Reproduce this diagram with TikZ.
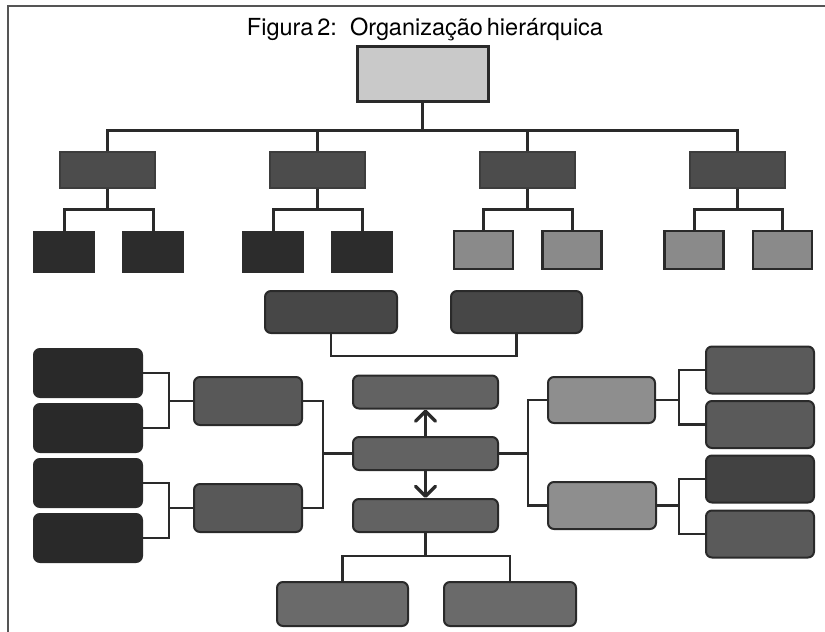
\documentclass[tikz,border=0pt]{standalone}
\usepackage{fontspec}
\setmainfont{TeX Gyre Heros}
\usetikzlibrary{arrows.meta}
\definecolor{cTop}{HTML}{C9C9C9}
\definecolor{cBrd}{HTML}{2A2A2A}
\definecolor{cLvl}{HTML}{4C4C4C}
\definecolor{cDark}{HTML}{2C2C2C}
\definecolor{cMid}{HTML}{8A8A8A}
\definecolor{cAB}{HTML}{474747}
\definecolor{cL}{HTML}{585858}
\definecolor{cC}{HTML}{626262}
\definecolor{cR}{HTML}{8E8E8E}
\definecolor{cFR}{HTML}{5A5A5A}
\definecolor{cFRd}{HTML}{424242}
\definecolor{cBot}{HTML}{6A6A6A}
\definecolor{cFL}{HTML}{292929}
\definecolor{cFrame}{HTML}{555555}
\tikzset{
  sq/.style={rectangle, inner sep=0pt, draw=cBrd, line width=1.5pt},
  rb/.style={rectangle, rounded corners=6pt, inner sep=0pt, draw=cBrd, line width=2pt},
  conA/.style={draw=cBrd, line width=3pt},
  conB/.style={draw=cBrd, line width=2.2pt},
  arr/.style={draw=cBrd, line width=3pt, -{Straight Barb[length=10pt,width=20pt,line width=3.5pt,round]}}
}
\begin{document}
\begin{tikzpicture}[x=1pt,y=-1pt]
\useasboundingbox (0,0) rectangle (825,632);
% frame
\draw[cFrame, line width=1.5pt] (8,640) -- (8,6) -- (830,6);
% title
\node[anchor=base, inner sep=0pt, font=\fontsize{23.5}{27}\selectfont] (title) at (425,35) {Figura\,2:\ \ Organização\,hierárquica};
% top tree
\node[sq, fill=cTop, line width=3pt, minimum width=131pt, minimum height=55pt] (top) at (422.5,73.5) {};
\foreach \n/\x in {b1/107.5,b2/317.5,b3/527.5,b4/737.5}
  \node[sq, fill=cLvl, draw=cLvl!80!black, minimum width=95pt, minimum height=36pt] (\n) at (\x,170) {};
\foreach \n/\x in {c11/64,c12/153,c21/273,c22/362}
  \node[sq, fill=cDark, draw=cDark, minimum width=60pt, minimum height=40pt] (\n) at (\x,252) {};
\foreach \n/\x in {c31/483.5,c32/572,c41/694,c42/782.5}
  \node[sq, fill=cMid, line width=2.5pt, minimum width=59pt, minimum height=38pt] (\n) at (\x,250) {};
\coordinate (jt) at (422.5,130);
\draw[conA] (top.south) -- (jt);
\draw[conA] (b1.north) |- (jt) -| (b4.north);
\draw[conA] (b2.north) -- (b2.north |- jt);
\draw[conA] (b3.north) -- (b3.north |- jt);
\foreach \p/\a/\b in {b1/c11/c12,b2/c21/c22,b3/c31/c32,b4/c41/c42}{
  \coordinate (j\p) at ([yshift=-21pt]\p.south);
  \draw[conA] (\p.south) -- (j\p);
  \draw[conA] (\a.north) |- (j\p) -| (\b.north);
}
% lower part
\node[rb, fill=cAB, minimum width=132pt, minimum height=42pt] (A) at (331,312) {};
\node[rb, fill=cAB, minimum width=131pt, minimum height=42pt] (B) at (516.5,312) {};
\coordinate (jab) at (424,356);
\draw[conB] (A.south) |- (jab) -| (B.south);
\foreach \n/\y in {C1/392,C2/453.5,C3/515.5}
  \node[rb, fill=cC, minimum width=145pt, minimum height=33pt] (\n) at (425.5,\y) {};
\draw[arr] (C2.north) -- (C1.south);
\draw[arr] (C2.south) -- (C3.north);
% left side
\node[rb, fill=cL, minimum width=108pt, minimum height=48pt] (L1) at (248,401) {};
\node[rb, fill=cL, minimum width=108pt, minimum height=48pt] (L2) at (248,508) {};
\foreach \n/\y in {FL1/373,FL2/428,FL3/483,FL4/538}
  \node[rb, fill=cFL, minimum width=108pt, minimum height=48pt] (\n) at (88,\y) {};
\coordinate (jl) at (323,453.5);
\draw[conB] (C2.west) -- (jl);
\draw[conB] (L1.east) -| (jl);
\draw[conB] (L2.east) -| (jl);
\coordinate (jl1) at (169,401);
\draw[conB] (L1.west) -- (jl1);
\draw[conB] (FL1.east) -| (jl1);
\draw[conB] (FL2.east) -| (jl1);
\coordinate (jl2) at (169,508);
\draw[conB] (L2.west) -- (jl2);
\draw[conB] (FL3.east) -| (jl2);
\draw[conB] (FL4.east) -| (jl2);
% bottom
\node[rb, fill=cBot, minimum width=131pt, minimum height=44pt] (BL) at (342.5,604) {};
\node[rb, fill=cBot, minimum width=132pt, minimum height=44pt] (BR) at (510,604) {};
\coordinate (jb) at (425.5,556);
\draw[conB] (C3.south) -- (jb);
\draw[conB] (BL.north) |- (jb) -| (BR.north);
% right side
\node[rb, fill=cR, minimum width=107pt, minimum height=46pt] (R1) at (601.5,400) {};
\node[rb, fill=cR, minimum width=108pt, minimum height=47pt] (R2) at (602,505.5) {};
\foreach \n/\y/\c in {FR1/370/cFR,FR2/424.5/cFR,FR3/479/cFRd,FR4/534/cFR}
  \node[rb, fill=\c, minimum width=108pt, minimum height=47pt] (\n) at (760,\y) {};
\coordinate (jr) at (528,453.5);
\draw[conB] (C2.east) -- (jr);
\draw[conB] (R1.west) -| (jr);
\draw[conB] (R2.west) -| (jr);
\coordinate (jr1) at (679,400);
\draw[conB] (R1.east) -- (jr1);
\draw[conB] (FR1.west) -| (jr1);
\draw[conB] (FR2.west) -| (jr1);
\coordinate (jr2) at (679,505.5);
\draw[conB] (R2.east) -- (jr2);
\draw[conB] (FR3.west) -| (jr2);
\draw[conB] (FR4.west) -| (jr2);
\end{tikzpicture}
\end{document}
